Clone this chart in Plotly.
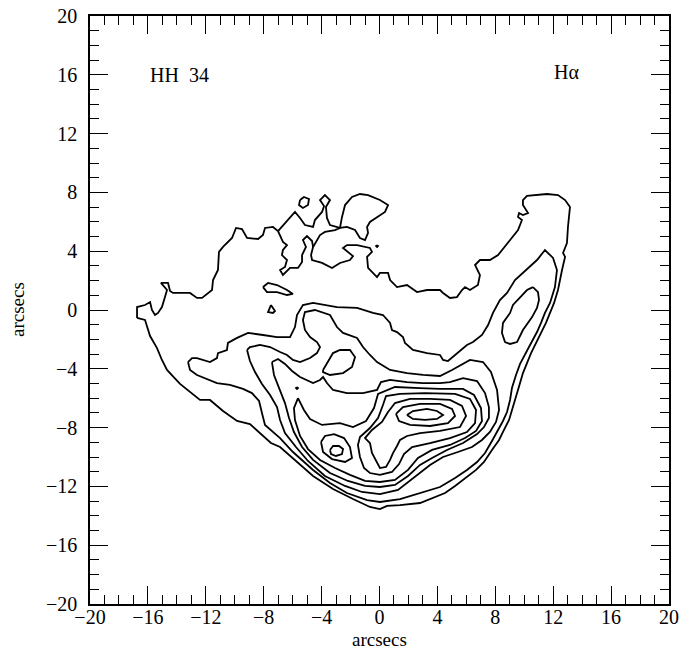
import plotly.graph_objects as go

# H-alpha contour lines of HH 34; each line is a list of (x, y) offsets in arcsec

outer = [(-16.75, -0.54), (-16.75, 0.20), (-16.20, 0.34), (-15.85, 0.54), (-15.72, 0.00), (-15.51, -0.34),
         (-15.30, -0.20), (-15.03, 0.20), (-14.82, 0.88), (-14.68, 1.36), (-15.10, 1.84), (-14.61, 1.84),
         (-14.47, 1.29), (-14.27, 1.16), (-13.09, 1.16), (-12.61, 0.82), (-12.26, 0.82), (-11.57, 1.36),
         (-11.50, 2.04), (-11.16, 2.72), (-11.09, 3.95), (-10.81, 4.29), (-10.19, 4.90), (-9.91, 5.58),
         (-9.50, 5.51), (-9.15, 4.90), (-8.39, 4.83), (-8.05, 5.10), (-7.91, 5.58), (-7.36, 5.65),
         (-7.01, 5.37), (-6.67, 4.63), (-6.39, 4.42), (-6.67, 4.08), (-6.74, 3.74), (-6.39, 3.40),
         (-6.53, 2.93), (-6.87, 2.72), (-6.67, 2.38), (-6.18, 2.86), (-5.63, 2.86), (-5.35, 3.27),
         (-5.35, 3.74), (-5.08, 4.29), (-5.29, 4.76), (-5.01, 5.03), (-4.66, 4.69), (-4.59, 4.29),
         (-4.73, 3.74), (-4.66, 3.40), (-3.97, 3.20), (-3.28, 2.86), (-2.73, 3.20), (-2.04, 3.40),
         (-1.83, 3.67), (-2.18, 3.95), (-2.52, 4.22), (-2.25, 4.42), (-1.55, 4.42), (-0.66, 4.22),
         (-0.52, 3.95), (-0.86, 3.61), (-0.79, 2.86), (-0.17, 2.24), (0.03, 2.52), (0.59, 2.52),
         (0.73, 2.04), (1.21, 1.56), (1.90, 1.70), (2.59, 1.22), (3.28, 1.36), (4.18, 1.36),
         (4.39, 1.16), (4.87, 0.82), (5.35, 0.88), (5.70, 1.36), (5.91, 1.56), (6.25, 1.36),
         (6.80, 1.70), (6.94, 2.38), (6.60, 3.06), (6.94, 3.40), (7.63, 3.40), (8.19, 3.74),
         (8.88, 4.63), (9.57, 5.44), (9.84, 6.12), (9.57, 6.33), (9.64, 6.60), (9.91, 6.46),
         (10.26, 6.60), (9.91, 7.14), (9.91, 7.48), (10.19, 7.76), (11.57, 7.89), (12.33, 7.82),
         (12.82, 7.48), (13.16, 7.01), (13.02, 5.65), (12.95, 4.56), (12.68, 3.88), (12.82, 3.61),
         (12.61, 2.72), (12.33, 1.36), (12.06, 0.48), (11.78, -0.20), (11.50, -0.88), (11.16, -1.56),
         (10.81, -2.24), (10.47, -2.93), (10.19, -3.61), (9.91, -4.29), (9.71, -4.97), (9.50, -5.65),
         (9.29, -6.33), (9.15, -6.94), (8.95, -7.48), (8.60, -8.16), (8.26, -8.84), (7.77, -9.52),
         (7.22, -10.34), (6.67, -10.88), (5.98, -11.43), (5.22, -11.97), (4.53, -12.45), (3.70, -12.79),
         (2.80, -13.13), (1.42, -13.27), (0.52, -13.33), (0.03, -13.54), (-0.66, -13.40), (-1.83, -12.86),
         (-3.21, -12.18), (-4.59, -11.29), (-5.98, -10.07), (-6.87, -9.32), (-7.50, -9.05), (-8.26, -8.37),
         (-8.95, -7.76), (-9.84, -7.55), (-10.81, -6.87), (-11.71, -6.12), (-12.40, -6.12), (-13.78, -5.03),
         (-14.68, -4.08), (-15.03, -3.40), (-15.37, -2.59), (-15.85, -1.77), (-16.20, -0.68), (-16.75, -0.54)]

rim = [(-7.01, 5.37), (-6.53, 5.92), (-5.84, 6.67), (-5.49, 6.26), (-5.15, 5.78), (-4.59, 5.65),
       (-4.46, 6.12), (-3.97, 6.67), (-3.83, 7.07), (-4.11, 7.48), (-3.77, 7.82), (-3.42, 7.48),
       (-3.70, 7.01), (-3.63, 6.26), (-3.42, 5.78), (-2.73, 5.58), (-2.59, 6.33), (-2.38, 7.14),
       (-1.90, 7.69), (-1.35, 7.89), (-0.79, 7.82), (0.03, 7.48), (0.59, 7.14), (0.38, 6.67),
       (-0.10, 6.33), (-0.66, 5.99), (-0.86, 5.65), (-0.79, 5.24), (-1.00, 4.76), (-1.35, 4.90),
       (-1.69, 5.44), (-2.25, 5.65), (-2.73, 5.58), (-3.07, 5.44), (-3.77, 5.31), (-4.11, 5.10),
       (-4.59, 4.29)]

knot = [(-5.49, 7.48), (-5.22, 7.69), (-4.87, 7.55), (-4.94, 7.14), (-5.29, 6.94), (-5.56, 7.14), (-5.49, 7.48)]

tongue = [(-8.05, 1.56), (-7.70, 1.84), (-7.08, 1.70), (-6.39, 1.36), (-5.98, 1.09), (-6.39, 1.02),
          (-7.08, 1.22), (-7.77, 1.22), (-8.05, 1.56)]

speck = [(-7.50, 0.34), (-7.22, -0.07), (-7.36, -0.20), (-7.70, -0.14), (-7.50, 0.34)]

arm = [(10.60, 1.56), (10.95, 1.22), (11.02, 0.68), (10.88, 0.14), (10.54, -0.48), (9.91, -1.36),
       (9.50, -2.18), (9.02, -2.31), (8.67, -2.18), (8.46, -1.56), (8.53, -0.88), (9.02, -0.20),
       (9.22, 0.34), (9.71, 0.88), (10.19, 1.36), (10.60, 1.56)]

level2 = [(-13.23, -3.54), (-12.95, -3.27), (-12.61, -3.27), (-11.71, -3.54), (-11.23, -3.27), (-11.16, -2.93),
          (-10.54, -2.72), (-10.47, -2.24), (-9.84, -1.90), (-9.08, -1.56), (-8.05, -1.70), (-7.08, -1.84),
          (-6.18, -1.84), (-5.84, -1.16), (-5.70, -0.34), (-5.29, 0.34), (-4.59, 0.48), (-2.94, 0.20),
          (-1.55, 0.14), (-0.45, -0.20), (0.24, -0.34), (0.73, -0.88), (0.86, -1.36), (1.21, -1.50),
          (1.62, -1.84), (1.76, -2.24), (2.31, -2.72), (3.28, -2.93), (4.18, -3.06), (4.39, -3.40),
          (4.73, -3.47), (5.35, -2.93), (6.04, -2.38), (6.46, -2.18), (7.08, -1.70), (7.50, -1.02),
          (7.84, -0.20), (8.32, 0.68), (8.81, 1.16), (9.36, 2.04), (9.91, 2.52), (10.88, 3.40),
          (11.43, 4.08), (11.99, 3.54), (12.26, 2.72), (12.12, 1.56), (11.78, 0.48), (11.43, -0.20),
          (11.16, -0.88), (10.88, -1.50), (10.40, -2.38), (10.05, -3.06), (9.71, -3.67), (9.43, -4.42),
          (9.15, -5.31), (9.02, -6.12), (8.81, -6.94), (8.53, -7.55), (8.12, -8.23), (7.77, -8.91),
          (7.29, -9.73), (6.74, -10.34), (6.04, -10.88), (5.22, -11.43), (4.18, -12.04), (2.80, -12.45),
          (1.42, -12.86), (0.03, -13.06), (-0.86, -12.93), (-2.25, -12.45), (-3.42, -11.77), (-4.59, -10.88),
          (-5.98, -9.66), (-6.87, -8.71), (-7.91, -7.82), (-8.12, -7.01), (-8.32, -6.19), (-8.81, -5.65),
          (-9.43, -5.37), (-10.33, -5.10), (-11.23, -4.97), (-12.61, -4.42), (-13.09, -4.08), (-13.23, -3.54)]

level3 = [(-9.15, -2.72), (-8.95, -2.52), (-8.26, -2.38), (-7.56, -2.52), (-6.87, -2.86), (-6.39, -3.06),
          (-5.98, -3.40), (-5.49, -3.54), (-4.80, -3.27), (-4.32, -2.93), (-4.11, -2.52), (-4.32, -2.18),
          (-4.80, -1.84), (-5.15, -1.36), (-5.29, -0.68), (-5.15, -0.14), (-4.46, 0.00), (-3.42, -0.34),
          (-2.94, -1.16), (-2.52, -1.56), (-1.55, -1.90), (-1.14, -2.52), (-0.66, -3.06), (-0.17, -3.54),
          (0.73, -4.08), (1.90, -4.29), (3.01, -4.42), (4.18, -4.49), (5.01, -4.08), (6.25, -3.40),
          (7.15, -3.54), (7.70, -4.22), (8.12, -5.44), (8.26, -6.80), (8.05, -7.62), (7.63, -8.30),
          (7.08, -8.84), (6.39, -9.32), (5.42, -9.66), (4.39, -10.00), (3.49, -10.54), (2.31, -11.43),
          (1.28, -12.24), (0.03, -12.52), (-1.21, -12.38), (-2.38, -11.97), (-3.77, -11.29), (-4.94, -10.27),
          (-5.77, -9.32), (-6.53, -8.37), (-6.87, -7.48), (-7.08, -6.60), (-7.56, -5.78), (-8.12, -5.03),
          (-8.60, -4.22), (-8.95, -3.47), (-9.15, -2.72)]

hollow = [(-3.90, -4.08), (-3.21, -2.93), (-2.73, -2.72), (-2.04, -2.72), (-1.69, -3.20), (-1.90, -3.88),
          (-2.52, -4.29), (-3.42, -4.42), (-3.90, -4.22), (-3.90, -4.08)]

level4 = [(-7.43, -3.54), (-7.01, -3.33), (-6.53, -3.67), (-6.04, -4.15), (-5.49, -4.56), (-4.59, -4.97),
          (-4.11, -4.76), (-3.90, -4.56), (-3.63, -4.97), (-3.21, -5.44), (-2.25, -5.65), (-1.14, -5.65),
          (-0.17, -5.44), (0.10, -4.90), (0.73, -4.76), (1.90, -4.90), (3.01, -4.97), (4.18, -4.97),
          (4.87, -4.90), (5.77, -4.63), (6.74, -4.83), (7.29, -5.65), (7.56, -6.60), (7.56, -7.35),
          (7.22, -7.96), (6.74, -8.44), (5.77, -9.05), (4.66, -9.52), (3.63, -10.07), (2.80, -10.54),
          (1.97, -11.29), (1.07, -11.90), (0.03, -12.04), (-1.00, -11.97), (-2.18, -11.63), (-3.42, -11.09),
          (-4.59, -10.20), (-5.35, -9.32), (-5.91, -8.30), (-6.25, -7.35), (-6.53, -6.33), (-6.94, -5.31),
          (-7.29, -4.42), (-7.43, -3.54)]

level5 = [(-5.63, -5.99), (-5.22, -6.80), (-4.80, -7.41), (-3.97, -7.82), (-2.73, -7.69), (-1.83, -7.96),
          (-0.93, -7.55), (-0.38, -6.67), (-0.10, -5.71), (1.07, -5.24), (2.80, -5.31), (4.18, -5.37),
          (5.77, -5.37), (6.53, -5.78), (7.01, -6.67), (7.08, -7.55), (6.67, -8.23), (5.91, -8.71),
          (4.87, -9.18), (3.63, -9.52), (2.66, -10.07), (1.97, -10.88), (1.07, -11.56), (0.03, -11.70),
          (-1.00, -11.63), (-2.04, -11.22), (-3.07, -10.75), (-4.11, -10.20), (-4.94, -9.46), (-5.49, -8.57),
          (-5.84, -7.48), (-5.91, -6.67), (-5.63, -5.99)]

level6 = [(0.24, -6.46), (0.45, -5.85), (1.42, -5.71), (3.14, -5.65), (5.22, -5.71), (6.25, -6.05),
          (6.67, -6.80), (6.60, -7.69), (6.04, -8.30), (4.87, -8.71), (3.49, -9.05), (2.25, -9.32),
          (1.69, -9.80), (1.35, -10.48), (0.86, -11.02), (0.03, -11.22), (-0.66, -11.09), (-1.07, -10.75),
          (-1.35, -10.00), (-1.49, -9.18), (-1.35, -8.64), (-0.66, -8.03), (-0.10, -7.35), (0.24, -6.46)]

level7 = [(0.59, -6.94), (1.07, -6.33), (2.11, -6.05), (3.49, -6.05), (4.87, -6.12), (5.70, -6.53),
          (5.98, -7.21), (5.56, -7.96), (4.18, -8.23), (2.80, -8.37), (1.90, -8.57), (1.42, -8.84),
          (1.21, -9.25), (0.93, -9.73), (0.73, -10.20), (0.45, -10.68), (0.03, -10.75), (-0.17, -10.41),
          (-0.52, -9.73), (-0.66, -9.05), (-1.00, -8.71), (-0.52, -8.16), (0.17, -7.62), (0.59, -6.94)]

level8 = [(1.14, -7.07), (1.62, -6.60), (2.80, -6.39), (4.18, -6.39), (5.01, -6.73), (5.22, -7.21),
          (4.73, -7.69), (3.49, -7.89), (2.11, -7.82), (1.35, -7.55), (1.14, -7.07)]

peak_east = [(1.90, -7.14), (2.31, -6.87), (3.28, -6.73), (3.97, -6.87), (4.39, -7.14), (3.97, -7.41),
             (3.14, -7.48), (2.31, -7.41), (1.90, -7.14)]

ring_west = [(-4.04, -8.98), (-3.77, -8.57), (-3.14, -8.44), (-2.45, -8.71), (-2.04, -9.32), (-1.90, -10.07),
             (-2.38, -10.34), (-3.28, -10.14), (-3.90, -9.66), (-4.04, -8.98)]

peak_west = [(-3.42, -9.52), (-3.21, -9.25), (-2.80, -9.25), (-2.52, -9.45), (-2.59, -9.80), (-3.01, -9.93),
             (-3.35, -9.80), (-3.42, -9.52)]

dot_north = [(-0.17, 4.42), (-0.10, 4.35), (-0.17, 4.28), (-0.24, 4.35), (-0.17, 4.42)]
dot_west = [(-5.70, -5.24), (-5.63, -5.31), (-5.70, -5.38), (-5.77, -5.31), (-5.70, -5.24)]

contour_lines = [outer, rim, knot, tongue, speck, arm, level2, level3, hollow, level4, level5,
                 level6, level7, level8, peak_east, ring_west, peak_west, dot_north, dot_west]

fig = go.Figure()
for line in contour_lines:
    fig.add_trace(go.Scatter(
        x=[p[0] for p in line], y=[p[1] for p in line], mode="lines",
        line=dict(color="black", width=1.8),
        hoverinfo="skip", showlegend=False,
    ))

font = dict(family="Liberation Serif, Times New Roman, serif", size=20, color="black")
title_font = dict(family="Liberation Serif, Times New Roman, serif", size=19, color="black")

# frame axes: bottom/left carry labels, extra overlaid axes give the inner minor
# ticks and the mirrored ticks on the top and right edges
def tick_axis(dtick, length, **kw):
    base = dict(range=[-20, 20], tick0=-20, dtick=dtick, ticks="inside", ticklen=length,
                tickwidth=1, tickcolor="black", showgrid=False, zeroline=False,
                showline=True, linecolor="black", linewidth=1.5, fixedrange=True)
    base.update(kw)
    return base

layout_axes = {
    "xaxis": tick_axis(4, 18, side="bottom", tickfont=font, ticklabelstandoff=-6),
    "yaxis": tick_axis(4, 18, side="left", tickfont=font, ticklabelstandoff=7),
    "xaxis2": tick_axis(1, 9, side="bottom", overlaying="x", anchor="y2", showticklabels=False),
    "yaxis2": tick_axis(1, 9, side="left", overlaying="y", anchor="x2", showticklabels=False),
    "xaxis3": tick_axis(4, 18, side="top", overlaying="x", anchor="y3", showticklabels=False),
    "yaxis3": tick_axis(4, 18, side="right", overlaying="y", anchor="x3", showticklabels=False),
    "xaxis4": tick_axis(1, 9, side="top", overlaying="x", anchor="y4", showticklabels=False),
    "yaxis4": tick_axis(1, 9, side="right", overlaying="y", anchor="x4", showticklabels=False),
}
for k in (2, 3, 4):
    fig.add_trace(go.Scatter(x=[], y=[], xaxis=f"x{k}", yaxis=f"y{k}",
                             hoverinfo="skip", showlegend=False))

fig.update_layout(**layout_axes)

fig.add_annotation(x=-13.8, y=16.0, text="HH\u00a0\u00a034", showarrow=False, font=font)
fig.add_annotation(x=12.9, y=16.2, text="Hα", showarrow=False, font=font)
fig.add_annotation(xref="paper", yref="paper", x=0.5, y=0, yanchor="middle", yshift=-35,
                   text="arcsecs", showarrow=False, font=title_font)
fig.add_annotation(xref="paper", yref="paper", x=0, y=0.5, xanchor="center", xshift=-73,
                   text="arcsecs", textangle=-90, showarrow=False, font=title_font)

fig.update_layout(
    width=685, height=649,
    margin=dict(l=90, r=16, t=16, b=45, autoexpand=False),
    paper_bgcolor="white", plot_bgcolor="white",
)

fig.write_html("out.html")
